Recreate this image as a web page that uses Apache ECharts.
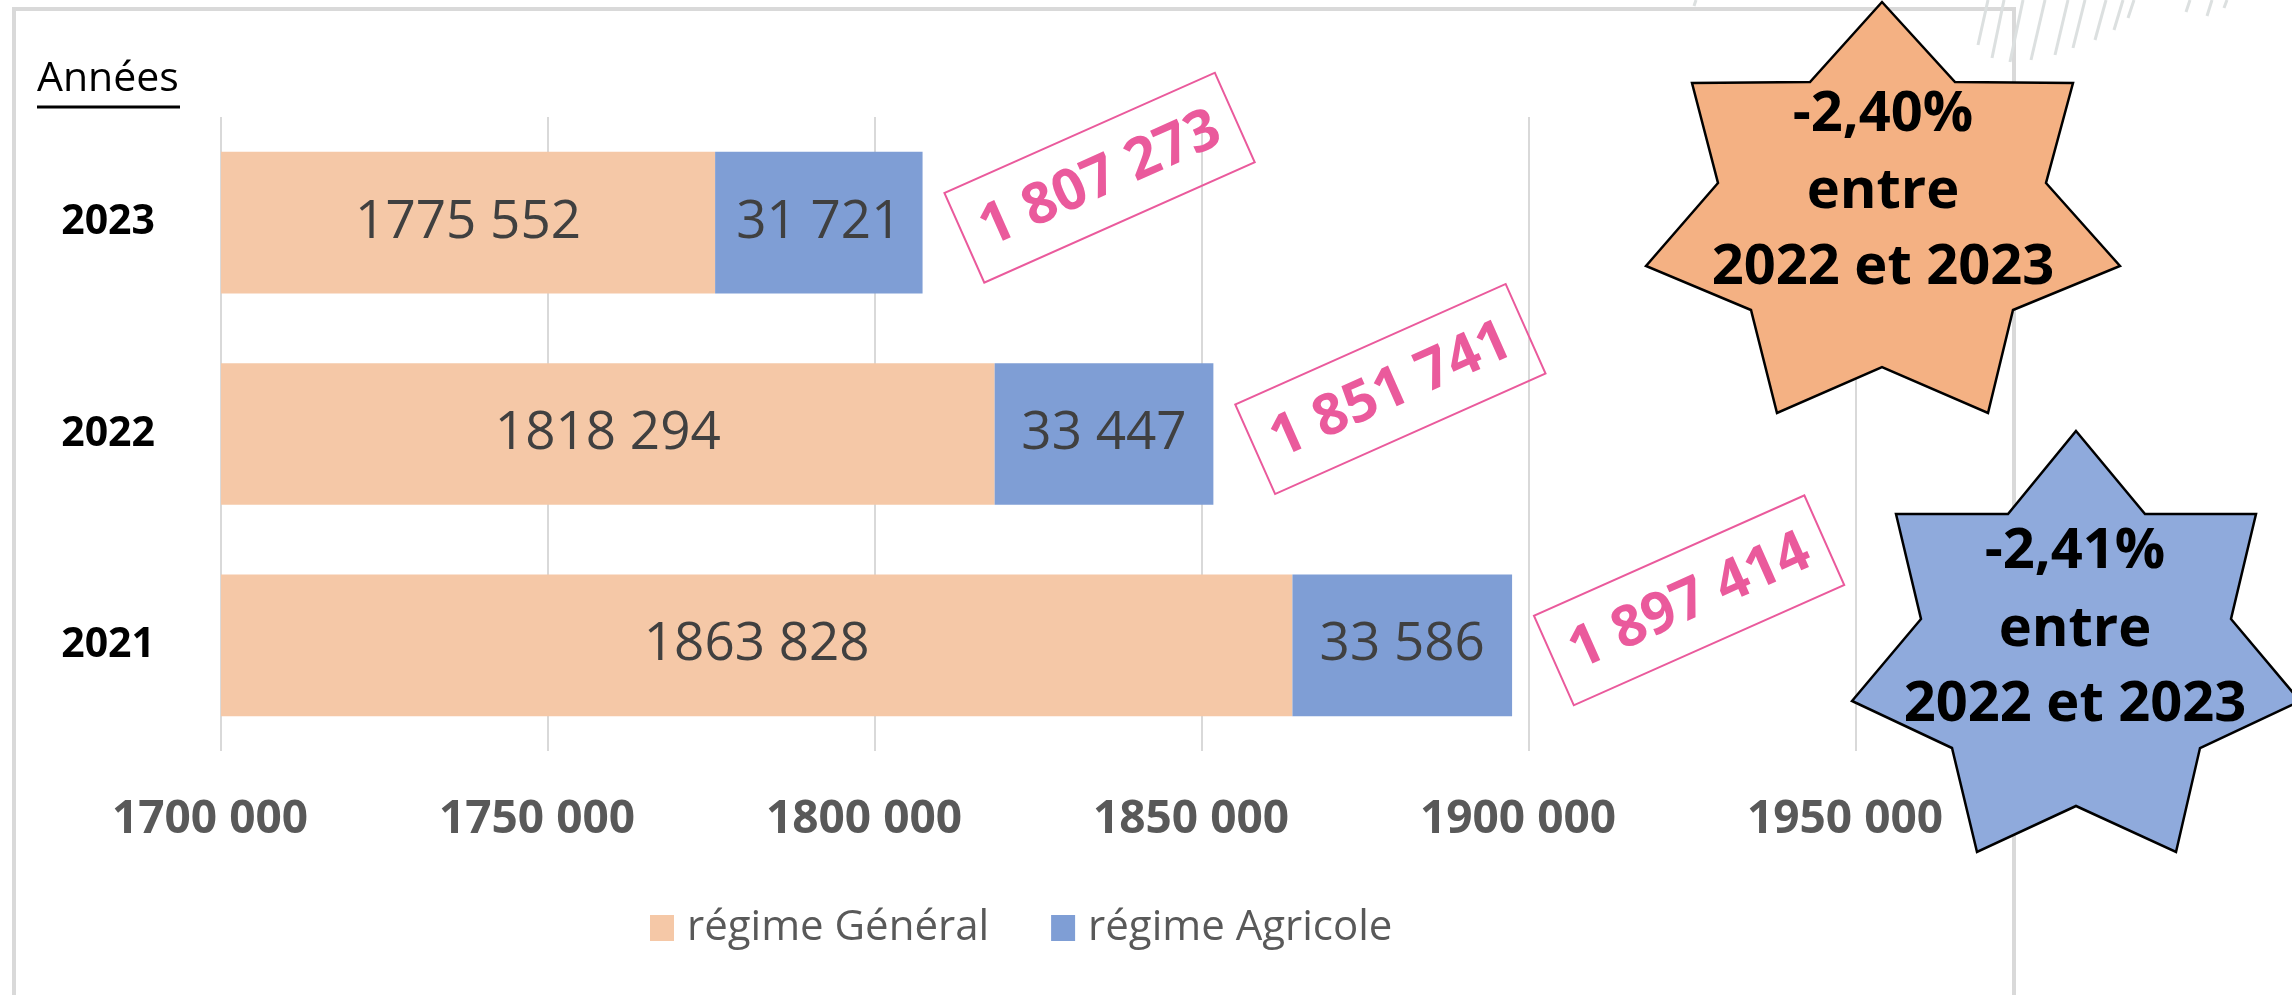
<!DOCTYPE html>
<html><head><meta charset="utf-8">
<script src="https://cdn.jsdelivr.net/npm/echarts@6/dist/echarts.min.js"></script>
<style>html,body{margin:0;padding:0;background:#fff}#c{width:2292px;height:995px}</style>
</head><body><div id="c"></div>
<script>
// ---- data ----
const years = ['2021', '2022', '2023'];
const regimeGeneral = [1863828, 1818294, 1775552];
const regimeAgricole = [33586, 33447, 31721];
const seriesNames = ['régime Général', 'régime Agricole'];
const xTicks = [1700000, 1750000, 1800000, 1850000, 1900000, 1950000];
const axisTitle = 'Années';
const starOrangeText = ['-2,40%', 'entre', '2022 et 2023'];
const starBlueText = ['-2,41%', 'entre', '2022 et 2023'];
const totals = regimeGeneral.map((v, i) => v + regimeAgricole[i]);

// ---- formatting ----
function fmtShort(v) { const a = Math.floor(v / 1000), b = v % 1000; return a + ' ' + String(b).padStart(3, '0'); }
function fmtFull(v) { return String(v).replace(/\B(?=(\d{3})+(?!\d))/g, ' '); }

const FONT = 'Open Sans';
const PINK = '#EA5A9C';

const chart = echarts.init(document.getElementById('c'), null, { renderer: 'canvas' });

function starText(lines, cx, ys) {
  return lines.map((t, i) => ({
    type: 'text', z: 101, silent: true,
    style: { text: t, x: cx, y: ys[i], align: 'center', verticalAlign: 'middle',
      fontSize: 56, fontWeight: 'bold', fontFamily: FONT, fill: '#000' }
  }));
}

const orangeStar = [[1882,2],[1955,82],[2073,83],[2046,183],[2120,266],[2013,310],[1988,413],[1882,367],[1777,413],[1751,310],[1646,266],[1718,183],[1692,83],[1810,82]];
const blueStar = [[2076,431],[2145,514],[2256,514],[2231,619],[2300,701],[2200,748],[2176,852],[2076,806],[1977,852],[1952,748],[1852,701],[1921,619],[1896,514],[2008,514]];

const hatch = [[1988,0,1978,45],[2004,0,1992,58],[2023,0,2010,62],[2045,0,2031,60],[2068,0,2055,55],[2085,0,2073,48],[2106,0,2095,40],[2123,0,2114,30],[2134,0,2128,18],[2190,0,2186,12],[2212,0,2207,16],[2227,0,2224,8],[1696,0,1694,6]];

const graphics = [
  { type: 'rect', z: -1, silent: true, shape: { x: 14, y: 9, width: 2000, height: 1100 },
    style: { fill: 'none', stroke: '#D9D9D9', lineWidth: 4 } },
  { type: 'text', silent: true, style: { text: axisTitle, x: 37, y: 100, align: 'left', verticalAlign: 'bottom',
      fontSize: 41, fontFamily: FONT, fill: '#000' } },
  { type: 'line', silent: true, shape: { x1: 37, y1: 107, x2: 180, y2: 107 }, style: { stroke: '#000', lineWidth: 3 } },
  { type: 'polygon', z: 100, silent: true, shape: { points: orangeStar },
    style: { fill: '#F4B183', stroke: '#000', lineWidth: 2.5 } },
  { type: 'polygon', z: 100, silent: true, shape: { points: blueStar },
    style: { fill: '#8FAADC', stroke: '#000', lineWidth: 2.5 } }
].concat(starText(starOrangeText, 1883, [115, 192, 268]))
 .concat(starText(starBlueText, 2075, [552, 630, 705]))
 .concat(hatch.map(h => ({ type: 'line', silent: true, shape: { x1: h[0], y1: h[1], x2: h[2], y2: h[3] },
   style: { stroke: '#DCE0E0', lineWidth: 3 } })));

chart.setOption({
  animation: false,
  backgroundColor: '#fff',
  textStyle: { fontFamily: FONT },
  grid: { left: 221, right: 436, top: 117, bottom: 244, containLabel: false },
  legend: {
    data: seriesNames, left: 645, top: 902, icon: 'rect', itemWidth: 24, itemHeight: 26, itemGap: 62,
    textStyle: { fontSize: 42, color: '#595959', fontFamily: FONT, padding: [0, 0, 0, 8] },
    selectedMode: false
  },
  xAxis: {
    type: 'value', min: xTicks[0], max: xTicks[xTicks.length - 1], interval: xTicks[1] - xTicks[0],
    axisLine: { show: false }, axisTick: { show: false },
    splitLine: { show: true, lineStyle: { color: '#D9D9D9', width: 2 } },
    axisLabel: { margin: 46, fontSize: 46, fontWeight: 'bold', color: '#595959', fontFamily: FONT,
      padding: [0, 22, 0, 0], formatter: v => fmtShort(v) }
  },
  yAxis: {
    type: 'category', data: years,
    axisLine: { show: false }, axisTick: { show: false }, splitLine: { show: false },
    axisLabel: { margin: 66, fontSize: 41, fontWeight: 'bold', color: '#000', fontFamily: FONT }
  },
  series: [
    { name: seriesNames[0], type: 'bar', stack: 'tot', data: regimeGeneral, barCategoryGap: '33%',
      itemStyle: { color: '#F5C8A7' },
      label: { show: true, position: 'inside', formatter: p => fmtShort(p.value), fontSize: 53,
        color: '#404040', fontFamily: FONT } },
    { name: seriesNames[1], type: 'bar', stack: 'tot', data: regimeAgricole,
      itemStyle: { color: '#7F9ED5' },
      label: { show: true, position: 'inside', formatter: p => fmtShort(p.value), fontSize: 53,
        color: '#404040', fontFamily: FONT } },
    { name: 'total', type: 'custom', silent: true, z: 5,
      data: totals.map((t, i) => [t, years[i]]),
      encode: { x: 0, y: 1 },
      renderItem: function (params, api) {
        const p = api.coord([api.value(0), api.value(1)]);
        const t = fmtFull(api.value(0));
        return {
          type: 'group', x: p[0] + 177, y: p[1] - 45, rotation: 24 * Math.PI / 180,
          children: [
            { type: 'rect', shape: { x: -148, y: -49, width: 296, height: 98 },
              style: { fill: 'none', stroke: PINK, lineWidth: 2 } },
            { type: 'text', style: { text: t, x: 0, y: 2, align: 'center', verticalAlign: 'middle',
                fontSize: 57, fontWeight: 'bold', fontFamily: FONT, fill: PINK } }
          ]
        };
      }
    }
  ],
  graphic: graphics
});
</script>
</body></html>
